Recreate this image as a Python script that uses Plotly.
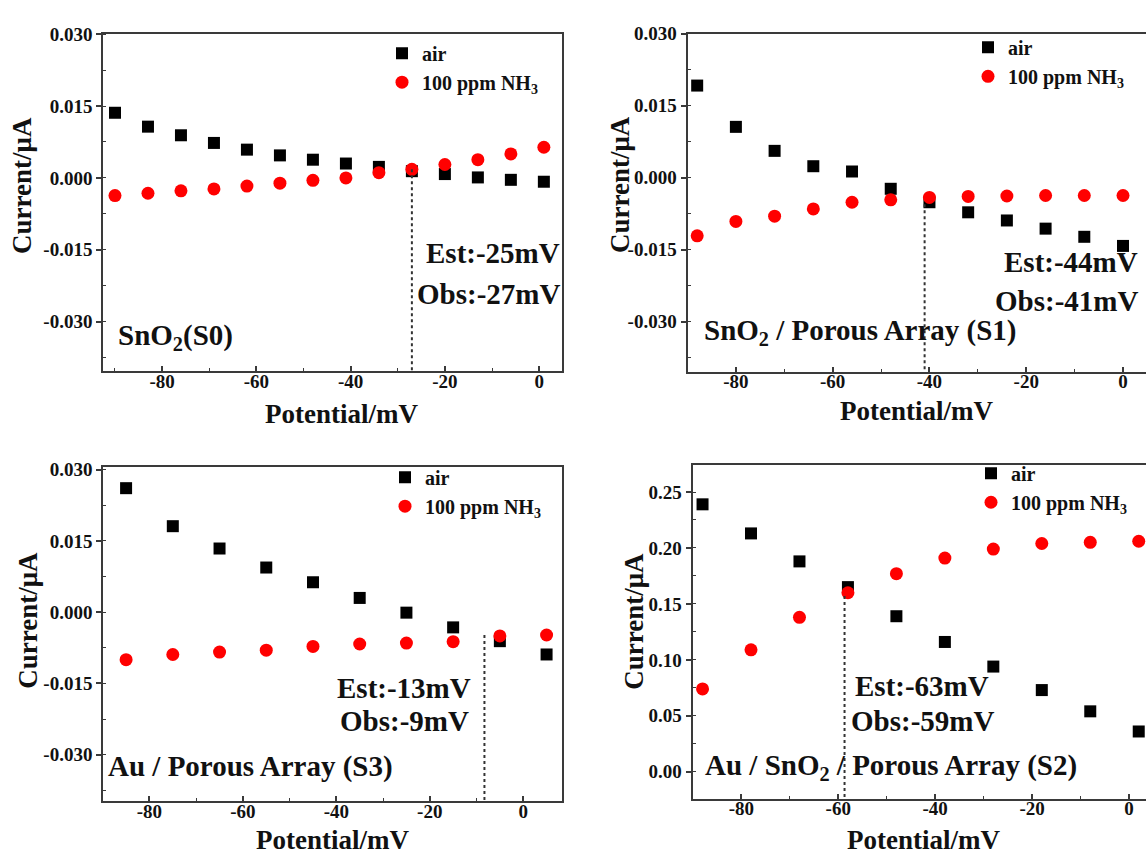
import plotly.graph_objects as go

# ---------------- data ----------------
X_S0 = [-90, -83, -76, -69, -62, -55, -48, -41, -34, -27, -20, -13, -6, 1]
AIR_S0 = [0.0136, 0.0107, 0.0089, 0.0073, 0.0059, 0.0047, 0.0038, 0.0030, 0.0023, 0.0014, 0.0008, 0.0001, -0.0004, -0.0008]
NH3_S0 = [-0.0037, -0.0032, -0.0027, -0.0023, -0.0017, -0.0011, -0.0005, 0.0000, 0.0011, 0.0018, 0.0028, 0.0038, 0.0050, 0.0064]

X_S1 = [-88, -80, -72, -64, -56, -48, -40, -32, -24, -16, -8, 0]
AIR_S1 = [0.0192, 0.0106, 0.0056, 0.0024, 0.0013, -0.0023, -0.0051, -0.0072, -0.0089, -0.0106, -0.0123, -0.0142]
NH3_S1 = [-0.0121, -0.0091, -0.0080, -0.0065, -0.0051, -0.0046, -0.0041, -0.0039, -0.0038, -0.0037, -0.0037, -0.0037]

X_S3 = [-85, -75, -65, -55, -45, -35, -25, -15, -5, 5]
AIR_S3 = [0.0261, 0.0181, 0.0134, 0.0094, 0.0063, 0.0030, -0.0001, -0.0032, -0.0061, -0.0089]
NH3_S3 = [-0.0100, -0.0089, -0.0084, -0.0080, -0.0072, -0.0067, -0.0065, -0.0062, -0.0050, -0.0048]

X_S2 = [-88, -78, -68, -58, -48, -38, -28, -18, -8, 2]
AIR_S2 = [0.239, 0.213, 0.188, 0.165, 0.139, 0.116, 0.094, 0.073, 0.054, 0.036]
NH3_S2 = [0.074, 0.109, 0.138, 0.160, 0.177, 0.191, 0.199, 0.204, 0.205, 0.206]

OBS_X = [-27, -41, -8.3, -58.7]
OBS_TOP = [0.0018, -0.0055, -0.0048, 0.157]

SERIES_NAMES = ["air", "100 ppm NH<sub>3</sub>"]
SAMPLE_LABELS = ["SnO<sub>2</sub>(S0)", "SnO<sub>2</sub> / Porous Array (S1)",
                 "Au / Porous Array (S3)", "Au / SnO<sub>2</sub> / Porous Array (S2)"]
EST_LABELS = ["Est:-25mV", "Est:-44mV", "Est:-13mV", "Est:-63mV"]
OBS_LABELS = ["Obs:-27mV", "Obs:-41mV", "Obs:-9mV", "Obs:-59mV"]

X_TICKS = [-80, -60, -40, -20, 0]
X_TICK_TEXT = ["-80", "-60", "-40", "-20", "0"]
Y_TICKS_SMALL = [-0.030, -0.015, 0.000, 0.015, 0.030]
Y_TICK_TEXT_SMALL = ["-0.030", "-0.015", "0.000", "0.015", "0.030"]
Y_TICKS_BIG = [0.00, 0.05, 0.10, 0.15, 0.20, 0.25]
Y_TICK_TEXT_BIG = ["0.00", "0.05", "0.10", "0.15", "0.20", "0.25"]

X_TITLE = "Potential/mV"
Y_TITLE = "Current/μA"

# ---------------- layout helpers ----------------
W, H = 1146, 851
FONT = "Liberation Serif"


def fx(p):
    return p / W


def fy(p):
    return 1 - p / H


def bold(items):
    return ["<b>%s</b>" % t for t in items]


panels = [
    dict(x=X_S0, air=AIR_S0, nh3=NH3_S0, box=(103.2, 562, 24.5, 365.7), xr=[-92.5, 4.85], yr=[-0.0404, 0.0300],
         yt=(Y_TICKS_SMALL, Y_TICK_TEXT_SMALL, 0.0075), mirror_y=True,
         leg=(382, 24), est=(562, 246, "right"), obs=(562, 287, "right"), lab=(116, 331),
         xt=(341, 409), ytl=(22, 178)),
    dict(x=X_S1, air=AIR_S1, nh3=NH3_S1, box=(687.5, 1146, 24, 366), xr=[-90.0, 4.75], yr=[-0.0404, 0.0300],
         yt=(Y_TICKS_SMALL, Y_TICK_TEXT_SMALL, 0.0075), mirror_y=False,
         leg=(968, 18), est=(1140, 255, "right"), obs=(1140, 294, "right"), lab=(702, 326),
         xt=(916, 406), ytl=(620, 177)),
    dict(x=X_S3, air=AIR_S3, nh3=NH3_S3, box=(103.2, 562, 462.7, 800.7), xr=[-89.9, 8.3], yr=[-0.0398, 0.0305],
         yt=(Y_TICKS_SMALL, Y_TICK_TEXT_SMALL, 0.0075), mirror_y=True,
         leg=(385, 453), est=(404, 686, "center"), obs=(404, 719, "center"), lab=(106, 765),
         xt=(332, 840), ytl=(28, 618)),
    dict(x=X_S2, air=AIR_S2, nh3=NH3_S2, box=(692.6, 1146, 460, 798), xr=[-90.05, 3.5], yr=[-0.024, 0.2745],
         yt=(Y_TICKS_BIG, Y_TICK_TEXT_BIG, 0.025), mirror_y=False,
         leg=(971, 449), est=(853, 684, "left"), obs=(849, 719, "left"), lab=(703, 766),
         xt=(923, 840), ytl=(634, 619)),
]

fig = go.Figure()
annotations = []
AXIS_COLOR = "#3a3a3a"
TXT = "#111111"

for i, p in enumerate(panels):
    n = "" if i == 0 else str(i + 1)
    xa, ya = "x" + n, "y" + n
    legname = "legend" + n
    fig.add_trace(go.Scatter(
        x=p["x"], y=p["air"], mode="markers", name="<b>%s</b>" % SERIES_NAMES[0],
        marker=dict(symbol="square", size=12, color="#000000"),
        xaxis=xa, yaxis=ya, legend=legname, cliponaxis=False))
    fig.add_trace(go.Scatter(
        x=p["x"], y=p["nh3"], mode="markers", name="<b>%s</b>" % SERIES_NAMES[1],
        marker=dict(symbol="circle", size=13, color="#ff0000"),
        xaxis=xa, yaxis=ya, legend=legname, cliponaxis=False))
    fig.add_trace(go.Scatter(
        x=[OBS_X[i], OBS_X[i]], y=[OBS_TOP[i], p["yr"][0]], mode="lines",
        line=dict(color="#333333", width=2, dash="dot"), showlegend=False,
        xaxis=xa, yaxis=ya))

    x0, x1, y0, y1 = p["box"]
    tickfont = dict(family=FONT, size=19, color=TXT)
    fig.update_layout(**{
        "xaxis" + n: dict(
            domain=[fx(x0), fx(x1)], range=p["xr"], anchor=ya,
            tickmode="array", tickvals=X_TICKS, ticktext=bold(X_TICK_TEXT),
            ticks="inside", ticklen=5, tickwidth=1.5, tickcolor=AXIS_COLOR,
            ticklabelstandoff=-8,
            minor=dict(tickmode="linear", tick0=0, dtick=10, ticks="inside", ticklen=3,
                       tickcolor=AXIS_COLOR, tickwidth=1.2),
            showline=True, linecolor=AXIS_COLOR, linewidth=2, mirror=True,
            showgrid=False, zeroline=False, tickfont=tickfont),
        "yaxis" + n: dict(
            domain=[fy(y1), fy(y0)], range=p["yr"], anchor=xa,
            tickmode="array", tickvals=p["yt"][0], ticktext=bold(p["yt"][1]),
            ticks="outside", ticklen=5, tickwidth=1.5, tickcolor=AXIS_COLOR,
            minor=dict(tickmode="linear", tick0=0, dtick=p["yt"][2], ticks="inside", ticklen=3,
                       tickcolor=AXIS_COLOR, tickwidth=1.2),
            showline=True, linecolor=AXIS_COLOR, linewidth=2, mirror=p["mirror_y"],
            showgrid=False, zeroline=False, tickfont=tickfont),
        legname: dict(
            x=fx(p["leg"][0]), y=fy(p["leg"][1]), xanchor="left", yanchor="top",
            bgcolor="rgba(0,0,0,0)", borderwidth=0, tracegroupgap=0, itemwidth=30,
            font=dict(family=FONT, size=20, color=TXT)),
    })

    big = dict(family=FONT, size=29, color=TXT)
    annotations += [
        dict(text="<b>%s</b>" % EST_LABELS[i], x=fx(p["est"][0]), y=fy(p["est"][1]), xref="paper", yref="paper",
             xanchor=p["est"][2], yanchor="middle", showarrow=False, font=big),
        dict(text="<b>%s</b>" % OBS_LABELS[i], x=fx(p["obs"][0]), y=fy(p["obs"][1]), xref="paper", yref="paper",
             xanchor=p["obs"][2], yanchor="middle", showarrow=False, font=big),
        dict(text="<b>%s</b>" % SAMPLE_LABELS[i], x=fx(p["lab"][0]), y=fy(p["lab"][1]), xref="paper", yref="paper",
             xanchor="left", yanchor="middle", showarrow=False, font=big),
        dict(text="<b>%s</b>" % X_TITLE, x=fx(p["xt"][0]), y=fy(p["xt"][1]), xref="paper", yref="paper",
             xanchor="center", yanchor="middle", showarrow=False,
             font=dict(family=FONT, size=27, color=TXT)),
        dict(text="<b>%s</b>" % Y_TITLE, x=fx(p["ytl"][0]), y=fy(p["ytl"][1]), xref="paper", yref="paper",
             xanchor="center", yanchor="middle", showarrow=False, textangle=-90,
             font=dict(family=FONT, size=27, color=TXT)),
    ]

fig.update_layout(
    width=W, height=H, margin=dict(l=0, r=0, t=0, b=0),
    paper_bgcolor="white", plot_bgcolor="white",
    font=dict(family=FONT, color=TXT),
    annotations=annotations, showlegend=True,
)

fig.write_html("out.html")
